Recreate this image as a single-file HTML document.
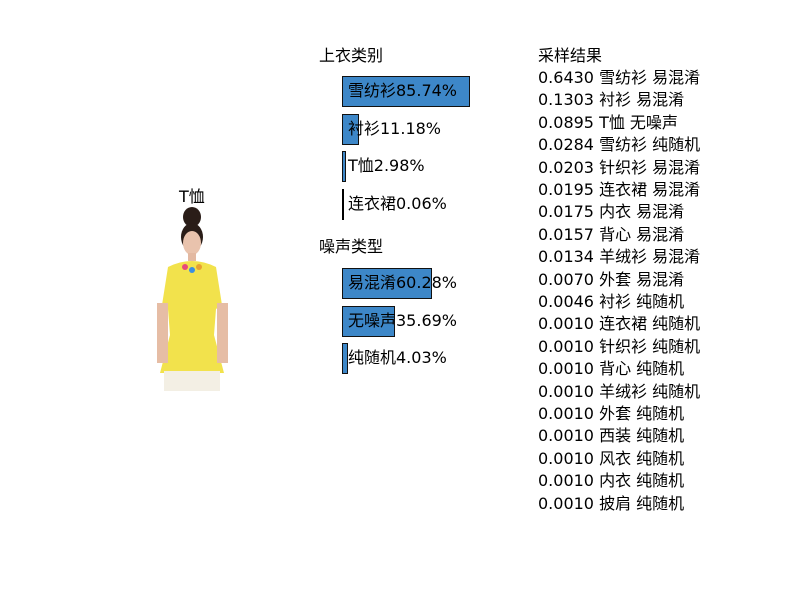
<!DOCTYPE html>
<html><head><meta charset="utf-8"><style>
body{margin:0;width:800px;height:600px;background:#fff;font-family:"DejaVu Sans","Noto Sans CJK SC",sans-serif;color:#000;position:relative;overflow:hidden}
.t{position:absolute;font-size:16px;white-space:nowrap;line-height:18px}
.bar{position:absolute;background:#3d87c8;border:1px solid #111;box-sizing:border-box}
</style></head><body>
<div class="t" style="left:179px;top:188px">T恤</div>
<svg style="position:absolute;left:150px;top:205px" width="85" height="188" viewBox="0 0 85 188">
<ellipse cx="42" cy="12" rx="9" ry="10" fill="#2a1d18"/>
<ellipse cx="42" cy="32" rx="11" ry="14" fill="#2a1d18"/>
<ellipse cx="42" cy="38" rx="9" ry="12" fill="#e9c3ad"/>
<rect x="38" y="48" width="8" height="8" fill="#e3b9a2"/>
<path d="M18 62 Q42 50 66 62 L72 100 L66 104 L64 130 L74 168 L10 168 L20 130 L18 104 L12 100 Z" fill="#f2e24c"/>
<rect x="7" y="98" width="11" height="60" fill="#e6bda5"/>
<rect x="67" y="98" width="11" height="60" fill="#e6bda5"/>
<rect x="14" y="166" width="56" height="20" fill="#f3efe4"/>
<circle cx="35" cy="62" r="3" fill="#e84a7a"/><circle cx="42" cy="65" r="3" fill="#3b8fe0"/><circle cx="49" cy="62" r="3" fill="#e8a030"/>
</svg>
<div class="t" style="left:319px;top:47px">上衣类别</div>
<div class="t" style="left:319px;top:238px">噪声类型</div>
<div class="t" style="left:538px;top:47px">采样结果</div>
<script>
const catLabels=["雪纺衫","衬衫","T恤","连衣裙"];
const catValues=[85.74,11.18,2.98,0.06];
const noiseLabels=["易混淆","无噪声","纯随机"];
const noiseValues=[60.28,35.69,4.03];
const sampleScores=["0.6430","0.1303","0.0895","0.0284","0.0203","0.0195","0.0175","0.0157","0.0134","0.0070","0.0046","0.0010","0.0010","0.0010","0.0010","0.0010","0.0010","0.0010","0.0010","0.0010"];
const sampleLabels=["雪纺衫 易混淆","衬衫 易混淆","T恤 无噪声","雪纺衫 纯随机","针织衫 易混淆","连衣裙 易混淆","内衣 易混淆","背心 易混淆","羊绒衫 易混淆","外套 易混淆","衬衫 纯随机","连衣裙 纯随机","针织衫 纯随机","背心 纯随机","羊绒衫 纯随机","外套 纯随机","西装 纯随机","风衣 纯随机","内衣 纯随机","披肩 纯随机"];
const x0=342, full=149;
function w(v){return Math.max(2,v/100*full);}
function drawBars(labels,values,top,step,name){
  labels.forEach((l,i)=>{
    const y=top+i*step;
    const b=document.createElement('div');
    b.className='bar';
    
    
    b.style.left=x0+'px';b.style.top=y+'px';b.style.width=w(values[i])+'px';b.style.height='31px';
    if(values[i]<0.5){b.style.background='#000';b.style.border='none';}
    document.body.appendChild(b);
    const t=document.createElement('div');
    t.className='t';
    
    
    t.style.left=(x0+6)+'px';t.style.top=(y+6)+'px';
    t.textContent=l+values[i].toFixed(2)+'%';
    document.body.appendChild(t);
  });
}
drawBars(catLabels,catValues,76,37.5,'category');
drawBars(noiseLabels,noiseValues,268,37.5,'noise');
sampleScores.forEach((s,i)=>{
  const t=document.createElement('div');
  t.className='t';
  
  
  t.style.left='538px';t.style.top=(69+i*22.4)+'px';
  t.textContent=s+' '+sampleLabels[i];
  document.body.appendChild(t);
});
</script>
</body></html>
